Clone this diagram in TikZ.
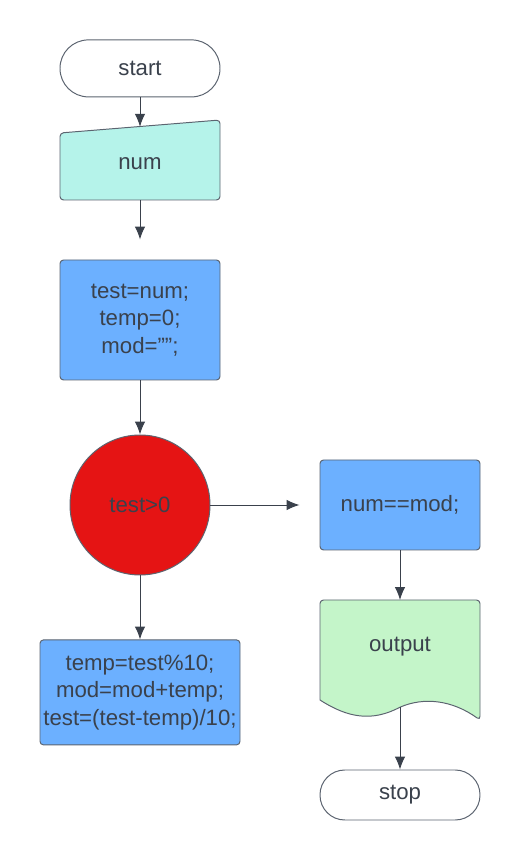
\documentclass[tikz,border=0pt]{standalone}
\usepackage{fontspec}
\setmainfont{Liberation Sans}
\usetikzlibrary{arrows.meta,positioning}
\definecolor{inkgray}{RGB}{58,65,76}
\definecolor{edgegray}{RGB}{92,100,112}
\definecolor{inputcyan}{RGB}{181,243,234}
\definecolor{procblue}{RGB}{108,176,255}
\definecolor{testred}{RGB}{229,20,20}
\definecolor{outgreen}{RGB}{196,245,201}
\tikzset{
  flow/.style={-{Latex[length=3.2mm,width=2.6mm]}, draw=inkgray, line width=0.7pt},
  lab/.style={font=\fontsize{15.8}{19.6}\selectfont, text=inkgray, align=center},
  terminal/.style={lab, draw=edgegray, line width=0.7pt, fill=white,
                   minimum width=40mm, inner sep=0pt},
  procbox/.style={lab, draw=edgegray, line width=0.7pt, fill=procblue,
                  rounded corners=2.5pt, inner sep=0pt},
  decision/.style={lab, circle, draw=edgegray, line width=0.7pt, fill=testred,
                   minimum size=35mm, inner sep=0pt},
  shapeline/.style={draw=edgegray, line width=0.7pt, rounded corners=2.5pt},
}
\begin{document}
\begin{tikzpicture}[x=1cm,y=1cm]
  \path[use as bounding box] (0,0) rectangle (13,21.5);

  % Start and input.
  \node[terminal, minimum height=14.25mm, rounded corners=7.1mm] (start) at (3.5,19.79) {start};
  \path[shapeline, fill=inputcyan]
    (1.5,16.5) -- (1.5,18.175) -- (5.5,18.5) -- (5.5,16.5) -- cycle;
  \node[lab] (num) at (3.5,17.42) {num};
  \coordinate (numtop) at (3.5,18.33);
  \draw[flow] (start.south) -- (numtop);

  % Initialisation.
  \node[procbox, minimum width=40mm, minimum height=30mm] (init) at (3.5,13.5)
    {test=num;\\temp=0;\\mod=\char34\char34;};
  \coordinate (numbot) at (3.5,16.5);
  \draw[flow, shorten >=5mm] (numbot) -- (init.north);

  % Loop test.
  \node[decision] (test) at (3.5,8.875) {test>0};
  \draw[flow] (init.south) -- (test.north);

  % Loop body.
  \node[procbox, minimum width=50mm, minimum height=26.25mm] (body) at (3.5,4.19)
    {temp=test\%10;\\mod=mod+temp;\\test=(test-temp)/10;};
  \draw[flow] (test.south) -- (body.north);

  % Result branch.
  \node[procbox, minimum width=40mm, minimum height=22.5mm] (check) at (10,8.875) {num==mod;};
  \draw[flow, shorten >=5mm] (test.east) -- (check.west);

  \path[shapeline, fill=outgreen]
    (8,4.0) -- (8,6.5) -- (12,6.5) -- (12,3.5) [sharp corners]
    .. controls (11.3,4.0) and (10.6,4.08) .. (10,3.82)
    .. controls (9.3,3.45) and (8.7,3.55) .. (8,4.0) -- cycle;
  \node[lab] (out) at (10,5.33) {output};
  \coordinate (outtop) at (10,6.5);
  \coordinate (outbot) at (10,3.82);
  \draw[flow] (check.south) -- (outtop);

  \node[terminal, minimum height=12.5mm, rounded corners=6.2mm] (stop) at (10,1.625) {stop};
  \draw[flow] (outbot) -- (stop.north);
\end{tikzpicture}
\end{document}
